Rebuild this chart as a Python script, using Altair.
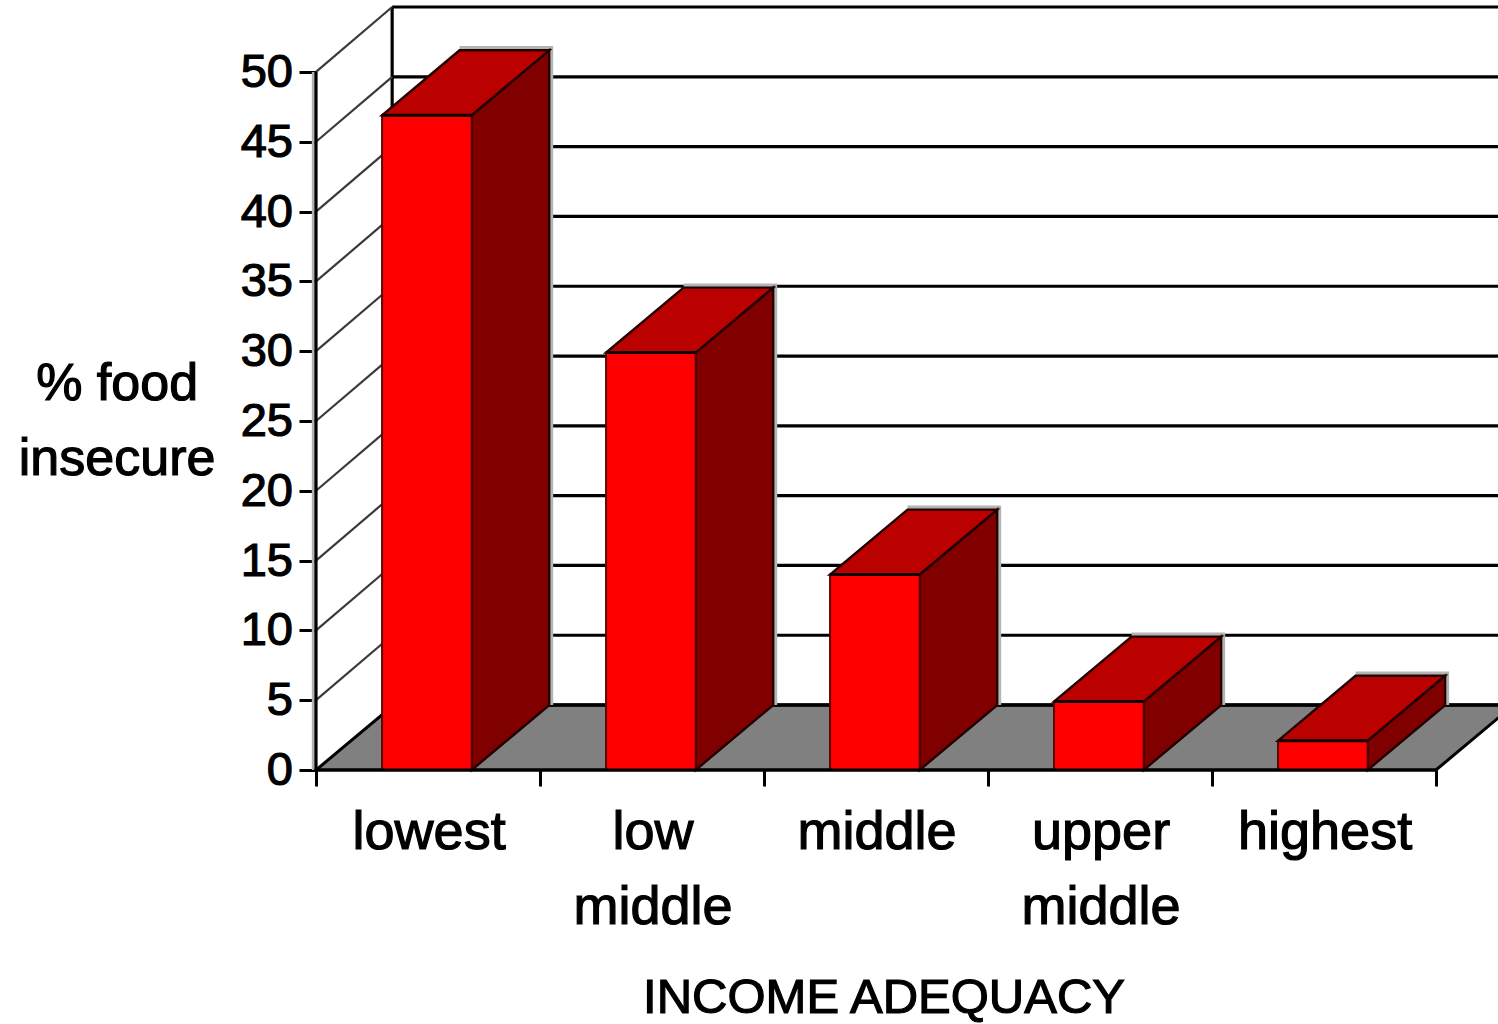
import altair as alt
import pandas as pd

# Chart values
categories = ["lowest", "low middle", "middle", "upper middle", "highest"]
first_lines = ["lowest", "low", "middle", "upper", "highest"]
second_lines = ["", "middle", "", "middle", ""]
percent_food_insecure = [46.9, 29.9, 14.0, 4.9, 2.1]
y_ticks = [0, 5, 10, 15, 20, 25, 30, 35, 40, 45, 50]
x_ticks = [0, 1, 2, 3, 4, 5]
y_title_lines = ["% food", "insecure"]
x_title = "INCOME ADEQUACY"

# Oblique projection, in axis units
WALL_DX = 0.34
WALL_DY = 4.65
BAR_DX = 0.346
BAR_DY = 4.65
BAR_LEFT = 0.295
BAR_WIDTH = 0.40
X_MAX = 5.277
Y_MAX = 54.58
FONT = "Liberation Sans"
TEXT_STROKE = 1.2

x_scale = alt.Scale(domain=[0, X_MAX], nice=False)
y_scale = alt.Scale(domain=[0, Y_MAX], nice=False)


def parallelogram(group, left, right, base, shift_x, shift_y):
    """Rows for an area mark tracing a sheared face between two edges."""
    rows = []
    breaks = sorted({left, right, left + shift_x, right + shift_x})
    for bx in breaks:
        low = base if bx <= right else base + (bx - right) / shift_x * shift_y
        high = base + min(bx - left, shift_x) / shift_x * shift_y
        rows.append({"group": group, "px": bx, "low": low, "high": high})
    return rows


def side_rows(group, right, value):
    return [
        {"group": group, "px": right, "low": 0, "high": value},
        {"group": group, "px": right + BAR_DX, "low": BAR_DY, "high": value + BAR_DY},
    ]


bars = pd.DataFrame(
    {
        "category": categories,
        "value": percent_food_insecure,
        "left": [i + BAR_LEFT for i in range(len(categories))],
        "right": [i + BAR_LEFT + BAR_WIDTH for i in range(len(categories))],
    }
)
bars["zero"] = 0
bars["halo_left"] = bars["left"] + BAR_DX
bars["halo_right"] = bars["right"] + BAR_DX + 0.018
bars["halo_base"] = BAR_DY
bars["halo_top"] = bars["value"] + BAR_DY + 0.3

tops, sides = [], []
for i, row in bars.iterrows():
    tops += parallelogram(i, row["left"], row["right"], row["value"], BAR_DX, BAR_DY)
    sides += side_rows(i, row["right"], row["value"])
tops = pd.DataFrame(tops)
sides = pd.DataFrame(sides)

floor = pd.DataFrame(parallelogram(0, 0, 5, 0, WALL_DX * 1.02, WALL_DY))

grid = pd.DataFrame({"tick": y_ticks})
grid["x0"] = 0
grid["x1"] = WALL_DX
grid["x_end"] = X_MAX
grid["back"] = grid["tick"] + WALL_DY
grid["label"] = grid["tick"].astype(str)

labels = pd.DataFrame(
    {
        "center": [i + 0.505 for i in range(len(categories))],
        "zero": 0,
        "first": first_lines,
        "second": second_lines,
    }
)

y_title_table = pd.DataFrame({"text": y_title_lines, "x": [-0.888, -0.888], "y": [26.5, 21.13]})
x_title_table = pd.DataFrame({"text": [x_title], "x": [2.536], "zero": [0]})

X = alt.X("px:Q", scale=x_scale, axis=None)
Y = alt.Y("low:Q", scale=y_scale, axis=None)


def x_enc(field):
    return alt.X(field, scale=x_scale, axis=None)


def y_enc(field):
    return alt.Y(field, scale=y_scale, axis=None)


def text_mark(size, **kwargs):
    return alt.Chart().mark_text(
        font=FONT,
        fontSize=size,
        color="black",
        stroke="black",
        strokeWidth=TEXT_STROKE,
        baseline="alphabetic",
        **kwargs,
    )


# Tick marks on both axes; the axis lines are separate rules so they stop at 50 and 5
axes = (
    alt.Chart(grid)
    .mark_point(opacity=0)
    .encode(
        x=alt.X(
            "x0:Q",
            scale=x_scale,
            axis=alt.Axis(
                values=x_ticks,
                labels=False,
                grid=False,
                domain=False,
                tickSize=16,
                tickWidth=3,
                tickColor="black",
                title=None,
            ),
        ),
        y=alt.Y(
            "tick:Q",
            scale=y_scale,
            axis=alt.Axis(
                values=y_ticks,
                labels=False,
                grid=False,
                domain=False,
                tickSize=17,
                tickWidth=3,
                tickColor="black",
                title=None,
            ),
        ),
    )
)

back_lines = (
    alt.Chart(grid)
    .mark_rule(color="black", strokeWidth=3.2)
    .encode(x=x_enc("x1:Q"), x2="x_end:Q", y=y_enc("back:Q"))
)

back_edge = (
    alt.Chart(pd.DataFrame({"x": [WALL_DX], "a": [WALL_DY], "b": [50 + WALL_DY]}))
    .mark_rule(color="black", strokeWidth=3.2)
    .encode(x=x_enc("x:Q"), y=y_enc("a:Q"), y2="b:Q")
)

left_shadow = (
    alt.Chart(pd.DataFrame({"x": [-0.012], "a": [0], "b": [50]}))
    .mark_rule(color="#b0b0b0", strokeWidth=3)
    .encode(x=x_enc("x:Q"), y=y_enc("a:Q"), y2="b:Q")
)

left_edge = (
    alt.Chart(pd.DataFrame({"x": [0], "a": [0], "b": [50]}))
    .mark_rule(color="black", strokeWidth=3.2)
    .encode(x=x_enc("x:Q"), y=y_enc("a:Q"), y2="b:Q")
)

diagonals = (
    alt.Chart(grid[grid["tick"] > 0])
    .mark_rule(color="#3a3a3a", strokeWidth=2.2)
    .encode(x=x_enc("x0:Q"), x2="x1:Q", y=y_enc("tick:Q"), y2="back:Q")
)

floor_layer = (
    alt.Chart(floor)
    .mark_area(color="#808080", stroke="black", strokeWidth=3)
    .encode(x=X, y=Y, y2="high:Q")
)

halo = (
    alt.Chart(bars)
    .mark_rect(color="#b4b4b4")
    .encode(x=x_enc("halo_left:Q"), x2="halo_right:Q", y=y_enc("halo_base:Q"), y2="halo_top:Q")
)

side_faces = (
    alt.Chart(sides)
    .mark_area(color="#800000", stroke="#200000", strokeWidth=2.4)
    .encode(x=X, y=Y, y2="high:Q", detail="group:N")
)

top_faces = (
    alt.Chart(tops)
    .mark_area(color="#bb0000", stroke="#200000", strokeWidth=2.4)
    .encode(x=X, y=Y, y2="high:Q", detail="group:N")
)

front_faces = (
    alt.Chart(bars)
    .mark_rect(color="#ff0000", stroke="#5a0000", strokeWidth=2)
    .encode(x=x_enc("left:Q"), x2="right:Q", y=y_enc("zero:Q"), y2="value:Q")
)

front_top_edges = (
    alt.Chart(bars)
    .mark_rule(color="#100000", strokeWidth=3)
    .encode(x=x_enc("left:Q"), x2="right:Q", y=y_enc("value:Q"))
)

baseline = (
    alt.Chart(pd.DataFrame({"a": [0], "b": [5], "zero": [0]}))
    .mark_rule(color="black", strokeWidth=3.2)
    .encode(x=x_enc("a:Q"), x2="b:Q", y=y_enc("zero:Q"))
)

tick_labels = (
    text_mark(47, align="right", dx=-23, dy=15)
    .encode(x=x_enc("x0:Q"), y=y_enc("tick:Q"), text="label:N")
    .properties(data=grid)
)

line_one = (
    text_mark(54, dy=79)
    .encode(x=x_enc("center:Q"), y=y_enc("zero:Q"), text="first:N")
    .properties(data=labels)
)

line_two = (
    text_mark(54, dy=154)
    .encode(x=x_enc("center:Q"), y=y_enc("zero:Q"), text="second:N")
    .properties(data=labels)
)

y_title = (
    text_mark(52)
    .encode(x=x_enc("x:Q"), y=y_enc("y:Q"), text="text:N")
    .properties(data=y_title_table)
)

x_title_layer = (
    text_mark(49, dy=243)
    .encode(x=x_enc("x:Q"), y=y_enc("zero:Q"), text="text:N")
    .properties(data=x_title_table)
)

chart = (
    alt.layer(
        back_lines,
        back_edge,
        left_shadow,
        diagonals,
        left_edge,
        floor_layer,
        back_lines.transform_filter("datum.tick == 0"),
        halo,
        side_faces,
        top_faces,
        front_faces,
        front_top_edges,
        baseline,
        tick_labels,
        line_one,
        line_two,
        y_title,
        x_title_layer,
        axes,
    )
    .resolve_axis(x="independent", y="independent")
    .properties(
        width=1182,
        height=762,
        autosize=alt.AutoSizeParams(type="none"),
        padding={"left": 316, "top": 8, "right": 0, "bottom": 254},
        background="white",
    )
    .configure_view(stroke=None)
)

chart.save("out.html", embed_options={"renderer": "svg", "actions": False})
